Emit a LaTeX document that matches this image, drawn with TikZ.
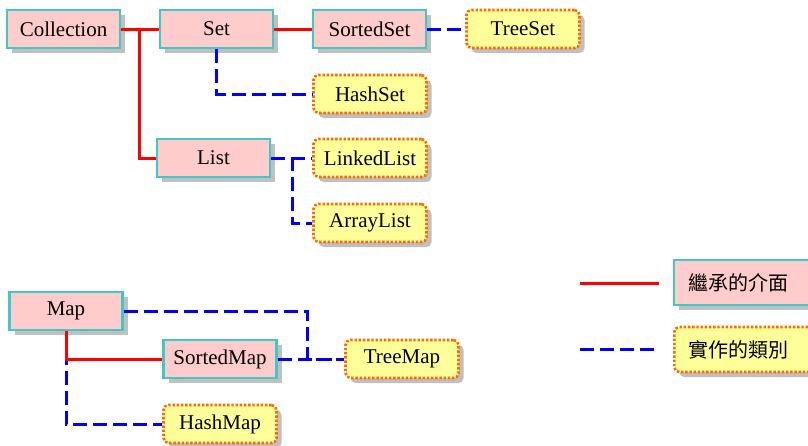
\documentclass[tikz,border=0pt]{standalone}
\usepackage{fontspec}
\setmainfont{Liberation Serif}
\newfontfamily\cjk{Noto Sans CJK TC}
\usetikzlibrary{shadows}
\definecolor{ifacefill}{HTML}{FFCCCC}
\definecolor{ifaceedge}{HTML}{40C8C8}
\definecolor{classfill}{HTML}{FFFF99}
\definecolor{classedge}{HTML}{FF6A00}
\definecolor{shadowgray}{HTML}{C0C0C0}
\tikzset{
  boxshadow/.style={general shadow={fill=shadowgray, shadow xshift=5pt, shadow yshift=-5pt}},
  iface/.style={boxshadow, draw=ifaceedge, fill=ifacefill, line width=2.4pt,
    minimum width=113pt, minimum height=38pt, inner sep=0pt,
    font=\fontsize{21}{25}\selectfont},
  impl/.style={boxshadow, draw=classedge, fill=classfill, line width=2.6pt,
    dash pattern=on 2.4pt off 1.8pt, rounded corners=5pt,
    minimum width=113pt, minimum height=38pt, inner sep=0pt,
    font=\fontsize{21}{25}\selectfont},
  legendtext/.style={text width=140pt, align=left, inner xsep=14pt,
    minimum height=45pt, font=\cjk\fontsize{20}{23}\selectfont},
  extends/.style={draw=red, line width=3pt},
  implements/.style={draw=blue, line width=3pt, dash pattern=on 14pt off 6pt},
}
\begin{document}
\begin{tikzpicture}[x=1pt, y=-1pt]
\useasboundingbox (0,0) rectangle (808,445);

% collection hierarchy
\node[iface] (Collection) at (63.5,29) {Collection};
\node[iface] (Set)        at (216.5,29) {Set};
\node[iface] (SortedSet)  at (369.5,29) {SortedSet};
\node[impl]  (TreeSet)    at (523,29) {TreeSet};
\node[impl]  (HashSet)    at (370,94) {HashSet};
\node[iface] (List)       at (213.5,158) {List};
\node[impl]  (LinkedList) at (370,158) {LinkedList};
\node[impl]  (ArrayList)  at (370,223) {ArrayList};

% map hierarchy
\node[iface] (Map)        at (66,311) {Map};
\node[iface] (SortedMap)  at (220,359) {SortedMap};
\node[impl]  (TreeMap)    at (402,359) {TreeMap};
\node[impl]  (HashMap)    at (220,424) {HashMap};

% legend
\node[iface, legendtext, anchor=west] (IfaceKey) at (673,282.5) {繼承的介面};
\node[impl, legendtext, anchor=west]  (ImplKey)  at (673,349.5) {實作的類別};
\coordinate (redA) at (580,283);
\coordinate (redB) at (659,283);
\coordinate (blueA) at (580,349);
\coordinate (blueB) at (659,349);

% connectors
\draw[extends] (Collection.east) -- (Set.west);
\draw[extends] (Collection.east) -- ++(18,0) |- (List.west);
\draw[extends] (Set.east) -- (SortedSet.west);
\draw[implements] (SortedSet.east) -- (TreeSet.west);
\draw[implements] (Set.south) |- (HashSet.west);
\draw[implements] (List.east) -- (LinkedList.west);
\draw[implements] (List.east) -- ++(21,0) |- (ArrayList.west);

\draw[implements] (Map.south) |- (HashMap.west);
\draw[extends] (Map.south) |- (SortedMap.west);
\draw[implements] (Map.east) -- ++(184,0) |- (TreeMap.west);
\draw[implements] (SortedMap.east) -- (TreeMap.west);

\draw[extends] (redA) -- (redB);
\draw[implements] (blueA) -- (blueB);
\end{tikzpicture}
\end{document}
